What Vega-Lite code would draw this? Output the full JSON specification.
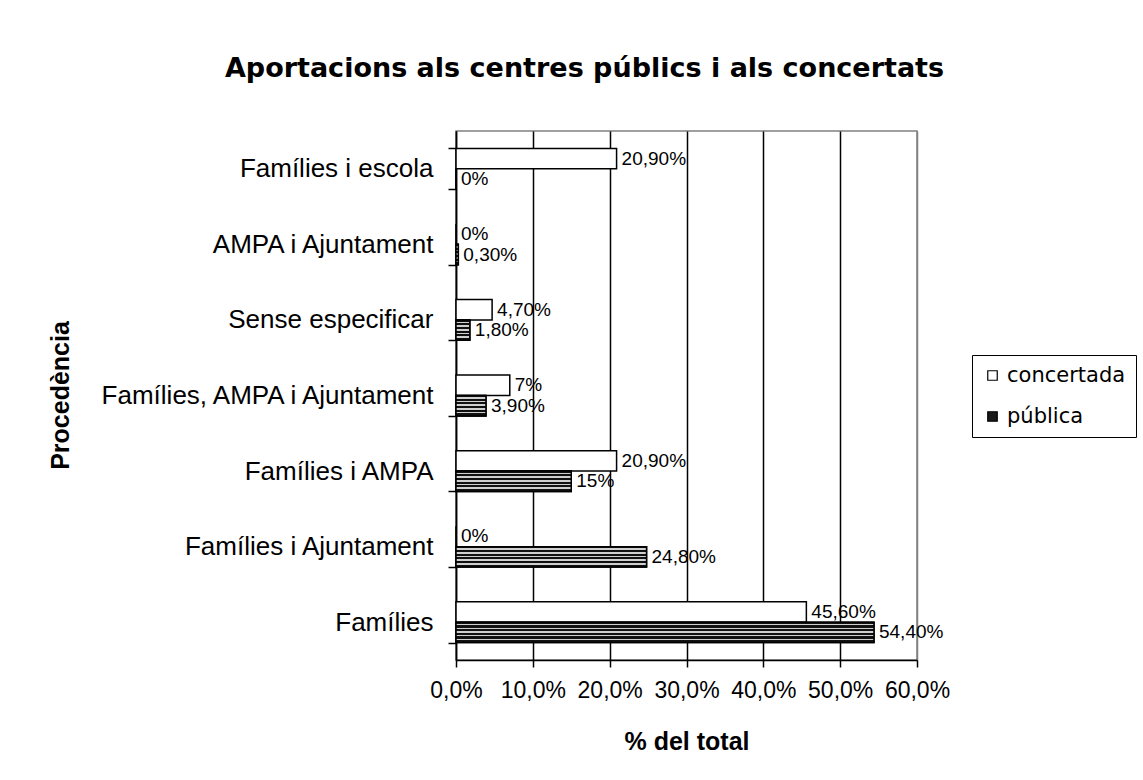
{
  "$schema": "https://vega.github.io/schema/vega-lite/v6.json",
  "width": 461,
  "height": 529,
  "autosize": {"type": "none"},
  "padding": {"left": 456, "top": 131, "right": 226, "bottom": 120},
  "background": "white",
  "title": {
    "text": "Aportacions als centres públics i als concertats",
    "font": "DejaVu Sans",
    "fontSize": 27,
    "fontWeight": "bold",
    "color": "black",
    "anchor": "middle",
    "frame": "group",
    "dx": -102,
    "offset": 35
  },
  "data": {
    "values": [
      {"procedencia": "Famílies i escola", "serie": "concertada", "valor": 20.9, "label": "20,90%"},
      {"procedencia": "Famílies i escola", "serie": "pública", "valor": 0, "label": "0%"},
      {"procedencia": "AMPA i Ajuntament", "serie": "concertada", "valor": 0, "label": "0%"},
      {"procedencia": "AMPA i Ajuntament", "serie": "pública", "valor": 0.3, "label": "0,30%"},
      {"procedencia": "Sense especificar", "serie": "concertada", "valor": 4.7, "label": "4,70%"},
      {"procedencia": "Sense especificar", "serie": "pública", "valor": 1.8, "label": "1,80%"},
      {"procedencia": "Famílies, AMPA i Ajuntament", "serie": "concertada", "valor": 7, "label": "7%"},
      {"procedencia": "Famílies, AMPA i Ajuntament", "serie": "pública", "valor": 3.9, "label": "3,90%"},
      {"procedencia": "Famílies i AMPA", "serie": "concertada", "valor": 20.9, "label": "20,90%"},
      {"procedencia": "Famílies i AMPA", "serie": "pública", "valor": 15, "label": "15%"},
      {"procedencia": "Famílies i Ajuntament", "serie": "concertada", "valor": 0, "label": "0%"},
      {"procedencia": "Famílies i Ajuntament", "serie": "pública", "valor": 24.8, "label": "24,80%"},
      {"procedencia": "Famílies", "serie": "concertada", "valor": 45.6, "label": "45,60%"},
      {"procedencia": "Famílies", "serie": "pública", "valor": 54.4, "label": "54,40%"}
    ]
  },
  "config": {
    "view": {"stroke": "#808080", "strokeWidth": 1.5}
  },
  "encoding": {
    "y": {
      "field": "procedencia",
      "type": "nominal",
      "sort": null,
      "scale": {"paddingInner": 0.46, "paddingOuter": 0.23},
      "axis": {
        "title": "Procedència",
        "titleFont": "Liberation Sans",
        "titleFontSize": 25,
        "titleFontWeight": "bold",
        "titleColor": "black",
        "titleX": -383,
        "titleY": 264,
        "titleAngle": -90,
        "titleAlign": "center",
        "titleBaseline": "bottom",
        "labelFont": "Liberation Sans",
        "labelFontSize": 26,
        "labelColor": "black",
        "labelPadding": 15,
        "labelLimit": 600,
        "tickSize": 8,
        "tickColor": "black",
        "tickWidth": 1.5,
        "tickBand": "extent",
        "domainColor": "black",
        "domainWidth": 1.5,
        "grid": false
      }
    },
    "yOffset": {
      "field": "serie",
      "type": "nominal",
      "scale": {"domain": ["concertada", "pública"], "paddingInner": 0, "paddingOuter": 0}
    },
    "x": {
      "field": "valor",
      "type": "quantitative",
      "scale": {"domain": [0, 60], "nice": false},
      "axis": {
        "title": "% del total",
        "titleFont": "Liberation Sans",
        "titleFontSize": 25,
        "titleFontWeight": "bold",
        "titleColor": "black",
        "titlePadding": 27,
        "values": [0, 10, 20, 30, 40, 50, 60],
        "labelExpr": "replace(format(datum.value, '.1f'), '.', ',') + '%'",
        "labelOverlap": false,
        "labelFlush": false,
        "labelFont": "Liberation Sans",
        "labelFontSize": 23,
        "labelColor": "black",
        "labelPadding": 12,
        "tickSize": 7,
        "tickColor": "black",
        "tickWidth": 1.5,
        "domainColor": "black",
        "domainWidth": 1.5,
        "grid": true,
        "gridWidth": 1.5,
        "gridColor": {"condition": {"test": "datum.value === 60", "value": "#808080"}, "value": "black"},
        "gridOpacity": 1
      }
    }
  },
  "layer": [
    {
      "mark": {"type": "bar", "stroke": "black", "strokeWidth": 1.5},
      "encoding": {
        "color": {
          "field": "serie",
          "type": "nominal",
          "scale": {"domain": ["concertada", "pública"], "range": ["white", "#1a1a1a"]},
          "legend": {
            "orient": "none",
            "legendX": 516,
            "legendY": 224,
            "title": null,
            "strokeColor": "black",
            "fillColor": "white",
            "padding": 10,
            "labelFont": "DejaVu Sans",
            "labelFontSize": 21,
            "labelColor": "black",
            "labelOffset": 4,
            "symbolType": "square",
            "symbolSize": 90,
            "symbolStrokeColor": "black",
            "symbolStrokeWidth": 1.2,
            "rowPadding": 19
          }
        }
      }
    },
    {
      "transform": [{"filter": "datum.serie == 'pública'"}],
      "mark": {
        "type": "bar",
        "stroke": "black",
        "strokeWidth": 1.5,
        "fill": {
          "gradient": "linear",
          "x1": 0, "y1": 0, "x2": 0, "y2": 1,
          "stops": [
            {"offset": 0, "color": "#111111"},
            {"offset": 0.08, "color": "#111111"},
            {"offset": 0.08, "color": "#cfcfcf"},
            {"offset": 0.16, "color": "#cfcfcf"},
            {"offset": 0.16, "color": "#111111"},
            {"offset": 0.26, "color": "#111111"},
            {"offset": 0.26, "color": "#cfcfcf"},
            {"offset": 0.34, "color": "#cfcfcf"},
            {"offset": 0.34, "color": "#111111"},
            {"offset": 0.44, "color": "#111111"},
            {"offset": 0.44, "color": "#cfcfcf"},
            {"offset": 0.52, "color": "#cfcfcf"},
            {"offset": 0.52, "color": "#111111"},
            {"offset": 0.62, "color": "#111111"},
            {"offset": 0.62, "color": "#cfcfcf"},
            {"offset": 0.70, "color": "#cfcfcf"},
            {"offset": 0.70, "color": "#111111"},
            {"offset": 0.80, "color": "#111111"},
            {"offset": 0.80, "color": "#cfcfcf"},
            {"offset": 0.88, "color": "#cfcfcf"},
            {"offset": 0.88, "color": "#111111"},
            {"offset": 1, "color": "#111111"}
          ]
        }
      }
    },
    {
      "mark": {
        "type": "text",
        "align": "left",
        "baseline": "middle",
        "dx": 5,
        "font": "Liberation Sans",
        "fontSize": 19,
        "color": "black"
      },
      "encoding": {"text": {"field": "label", "type": "nominal"}}
    }
  ]
}
